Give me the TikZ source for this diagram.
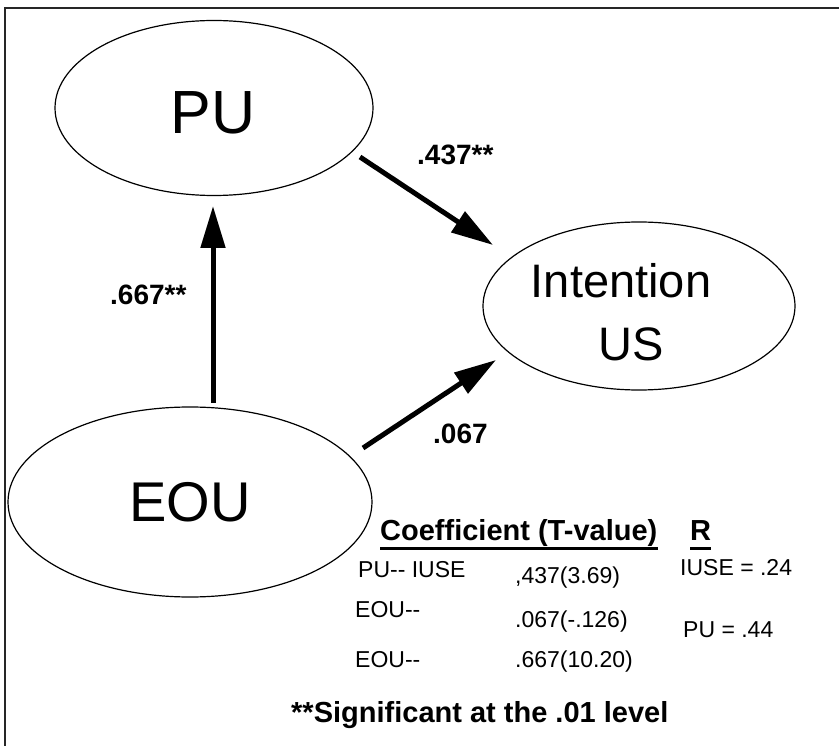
\documentclass[tikz,border=0pt]{standalone}
\usepackage{fontspec}
\setmainfont{Liberation Sans}
\usetikzlibrary{arrows.meta,shapes.geometric,calc}
\begin{document}
\begin{tikzpicture}[x=1pt,y=-1pt,
  ell/.style={draw,ellipse,inner sep=0pt,line width=1.2pt},
  bigtxt/.style={anchor=base,inner sep=0pt,font=\fontsize{57}{60}\selectfont},
  arr/.style={line width=5pt,-{Triangle[length=42pt,width=24pt]}},
  coef/.style={anchor=base west,inner sep=0pt,font=\bfseries\fontsize{28}{30}\selectfont},
  tbl/.style={anchor=base west,inner sep=0pt,font=\fontsize{23}{25}\selectfont},
  hdr/.style={anchor=base west,inner sep=0pt,font=\bfseries\fontsize{29}{31}\selectfont},
  uline/.style={line width=3pt}
]
\useasboundingbox (0,0) rectangle (839,746);
\draw[line width=1.3pt,black!85] (5,746) -- (5,8) -- (839,8);

% ellipses
\node[ell,minimum width=318pt,minimum height=175pt] (PU) at (214,108) {};
\node[ell,minimum width=312pt,minimum height=168pt] (IU) at (639,306) {};
\node[ell,minimum width=364pt,minimum height=190pt] (EOU) at (190,502) {};

% ellipse texts
\node[bigtxt,font=\fontsize{61}{64}\selectfont] (PUt) at (213,134) {PU};
\node[bigtxt,font=\fontsize{47}{50}\selectfont] (IUt1) at (621,298) {Intention};
\node[bigtxt,font=\fontsize{47}{50}\selectfont] (IUt2) at (631,360) {US};
\node[bigtxt,font=\fontsize{56}{58}\selectfont] (EOUt) at (190,521) {EOU};

% arrows
\draw[arr] ($(EOU)+(23,-99)$) -- ($(PU)+(-1,98)$);
\draw[arr] ($(PU)+(146,49)$) -- ($(IU)+(-146,-61)$);
\draw[arr] ($(EOU)+(173,-54)$) -- ($(IU)+(-143,54)$);

% arrow labels
\node[coef] (c1) at (110,305) {.667**};
\node[coef] (c2) at (417,165) {.437**};
\node[coef] (c3) at (433,443) {.067};

% table
\node[hdr] (h1) at (380,540) {Coefficient (T-value)};
\node[hdr] (h2) at (690,540) {R};
\draw[uline] ([yshift=-8pt]h1.base west) -- ([yshift=-8pt]h1.base east);
\draw[uline] ([yshift=-8pt]h2.base west) -- ([yshift=-8pt]h2.base east);

\node[tbl] (r1a) at (358,577) {PU-{}- IUSE};
\node[tbl] (r1b) at (515,583) {,437(3.69)};
\node[tbl] (r1c) at (680,575) {IUSE = .24};
\node[tbl] (r2a) at (355,617) {EOU-{}-};
\node[tbl] (r2b) at (515,627) {.067(-.126)};
\node[tbl] (r2c) at (683,637) {PU = .44};
\node[tbl] (r3a) at (355,667) {EOU-{}-};
\node[tbl] (r3b) at (515,667) {.667(10.20)};

\node[hdr] (sig) at (291,722) {**Significant at the .01 level};
\end{tikzpicture}
\end{document}
